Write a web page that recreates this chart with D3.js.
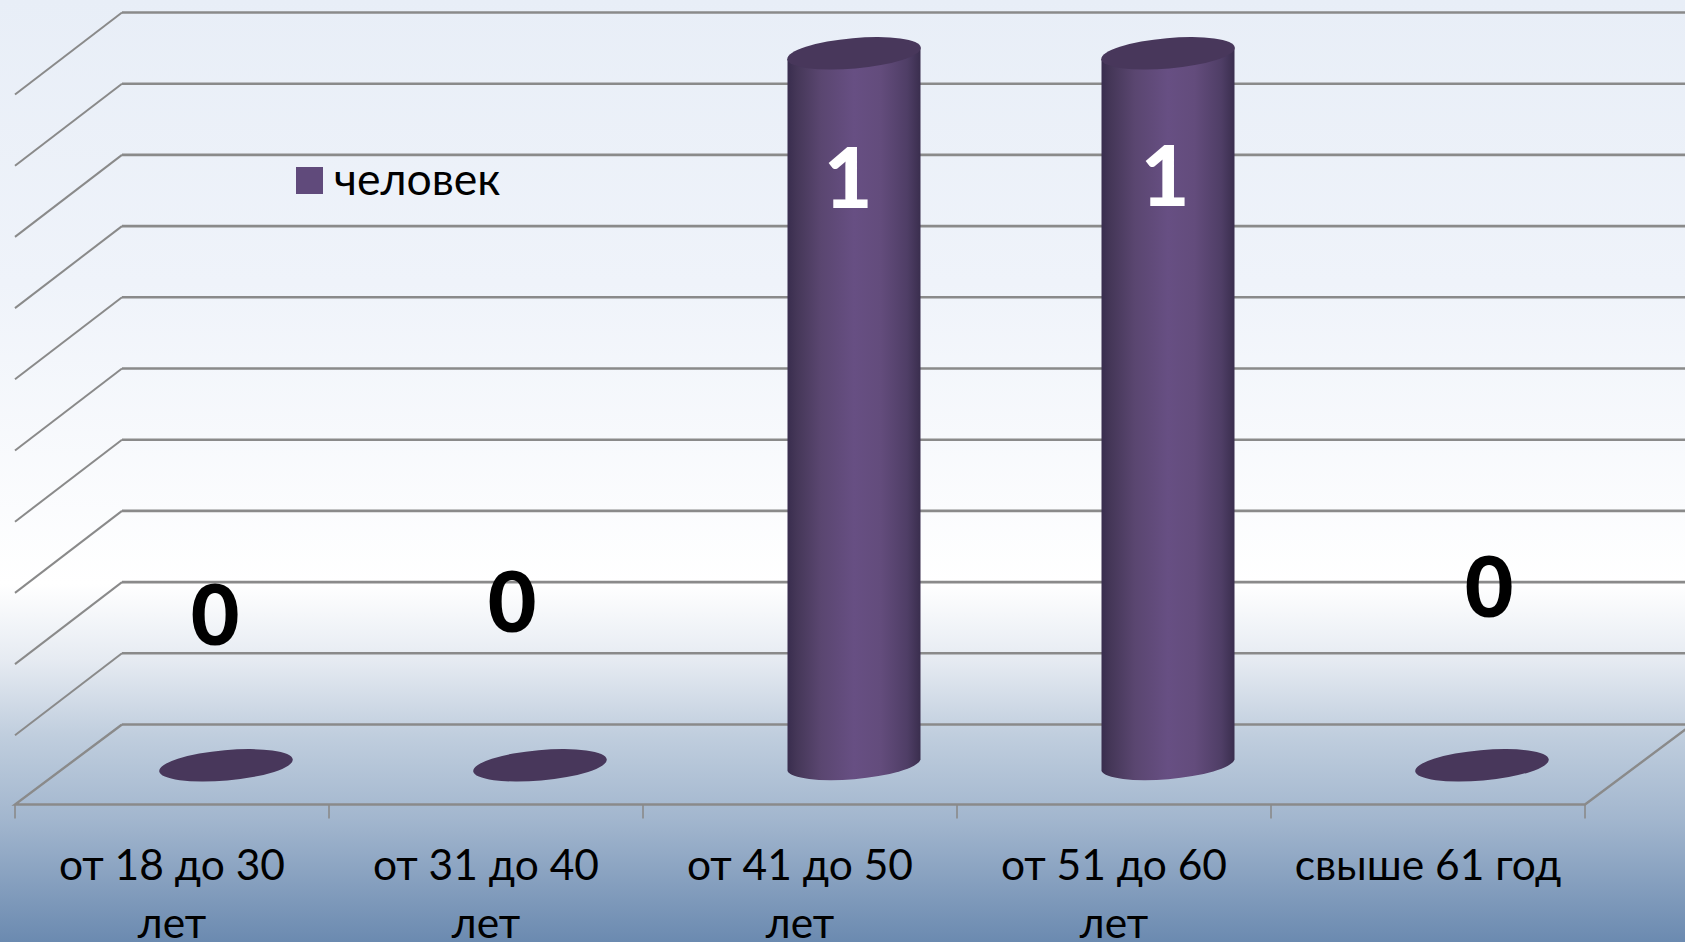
<!DOCTYPE html>
<html>
<head>
<meta charset="utf-8">
<script src="https://cdnjs.cloudflare.com/ajax/libs/d3/7.8.5/d3.min.js"></script>
<style>
    html, body { margin: 0; padding: 0; overflow: hidden; }
    text { font-family: Lato, "Open Sans", sans-serif; }
</style>
</head>
<body>
<div id="chart"></div>
<script>
const categories = ['от 18 до 30 лет', 'от 31 до 40 лет', 'от 41 до 50 лет', 'от 51 до 60 лет', 'свыше 61 год'];
const values = [0, 0, 1, 1, 0];
const seriesName = 'человек';

const width = 1685;
const height = 942;

// oblique depth of the 3D box, floor front edge to back wall
const depthX = 107;
const depthY = -80;
const sideDrop = 82;

// data labels were moved by hand in the original chart
const labelNudgeX = [-11, -28, -6, -3, 7];
const labelY = [612, 599, 175, 173, 584];

const svg = d3.select('#chart').append('svg')
    .attr('width', width)
    .attr('height', height);

const defs = svg.append('defs');

const bgGradient = defs.append('linearGradient')
    .attr('id', 'bg-gradient')
    .attr('x1', '0%').attr('y1', '0%')
    .attr('x2', '0%').attr('y2', '100%');
[[0, '#e8eef7'], [0.3, '#eff3fa'], [0.62, '#ffffff'], [0.7, '#e6ebf2'], [0.78, '#c0cede'], [0.87, '#a2b6ce'], [1, '#6b8ab0']]
    .forEach(s => bgGradient.append('stop').attr('offset', s[0]).attr('stop-color', s[1]));

const barGradient = defs.append('linearGradient')
    .attr('id', 'bar-gradient')
    .attr('x1', '0%').attr('y1', '0%')
    .attr('x2', '100%').attr('y2', '0%');
[[0, '#392d4e'], [0.07, '#453758'], [0.25, '#5a4670'], [0.5, '#674f83'], [0.7, '#634c7c'], [0.9, '#4f3e66'], [1, '#3a2e4e']]
    .forEach(s => barGradient.append('stop').attr('offset', s[0]).attr('stop-color', s[1]));

svg.append('rect')
    .attr('width', width)
    .attr('height', height)
    .attr('fill', 'url(#bg-gradient)');

const x = d3.scaleBand()
    .domain(categories)
    .range([15, 1585])
    .padding(0);

const floorFront = 804.5;
const y = d3.scaleLinear()
    .domain([0, 1])
    .range([floorFront + depthY, 12.5]);

const gridColor = '#8a8a8a';

// back wall and side wall grid
const gridTicks = y.ticks(10);
const grid = svg.append('g');

grid.selectAll('.wall-line')
    .data(gridTicks)
    .enter().append('line')
    .attr('class', 'wall-line')
    .attr('x1', x.range()[0] + depthX)
    .attr('x2', width)
    .attr('y1', d => y(d))
    .attr('y2', d => y(d))
    .attr('stroke', gridColor)
    .attr('stroke-width', 2.6);

grid.selectAll('.side-line')
    .data(gridTicks.filter(d => d > 0))
    .enter().append('line')
    .attr('class', 'side-line')
    .attr('x1', x.range()[0])
    .attr('x2', x.range()[0] + depthX)
    .attr('y1', d => y(d) + sideDrop)
    .attr('y2', d => y(d))
    .attr('stroke', gridColor)
    .attr('stroke-width', 2);

// floor outline
grid.append('path')
    .attr('d', d3.line()([
        [x.range()[0] + depthX, y(0)],
        [x.range()[0], floorFront],
        [x.range()[1], floorFront],
        [x.range()[1] + depthX, y(0)]
    ]))
    .attr('fill', 'none')
    .attr('stroke', gridColor)
    .attr('stroke-width', 2.4);

const tickEdges = categories.map(d => x(d)).concat(x.range()[1]);
grid.selectAll('.edge-tick')
    .data(tickEdges)
    .enter().append('line')
    .attr('class', 'edge-tick')
    .attr('x1', d => d)
    .attr('x2', d => d)
    .attr('y1', floorFront)
    .attr('y2', floorFront + 14)
    .attr('stroke', gridColor)
    .attr('stroke-width', 1.6);

// category labels
const xAxis = d3.axisBottom(x).tickSize(0).tickPadding(0);
const axisG = svg.append('g')
    .attr('transform', `translate(0, ${floorFront})`)
    .call(xAxis);
axisG.select('.domain').remove();
axisG.selectAll('text')
    .attr('y', null)
    .attr('dy', null)
    .attr('fill', '#000')
    .style('font-size', '42.5px')
    .each(function (d) {
        const lines = d.split(/ (?=лет)/);
        const t = d3.select(this).text(null);
        lines.forEach((line, i) => {
            t.append('tspan')
                .attr('x', 0)
                .attr('y', 75.5 + i * 58)
                .text(line);
        });
    });

// cylinders, centred halfway into the depth of the box
const barRx = 67;
const barRy = 15.2;
const barTilt = -5;
const barHalf = 66.5;
const barSlope = 5.6;
const cx = d => x(d) + x.bandwidth() / 2 + depthX / 2 + 0.5;
const cy = v => y(v) - depthY / 2 + 0.8;

const bars = svg.append('g').selectAll('.bar')
    .data(categories.map((c, i) => ({ category: c, value: values[i] })))
    .enter().append('g')
    .attr('class', 'bar');

bars.append('path')
    .attr('fill', 'url(#bar-gradient)')
    .attr('d', d => {
        const l = cx(d.category) - barHalf;
        const r = cx(d.category) + barHalf;
        const top = cy(d.value);
        const base = cy(0);
        return `M${l},${top + barSlope}L${l},${base + barSlope}` +
            `A${barRx},${barRy} ${barTilt} 0 0 ${r},${base - barSlope}` +
            `L${r},${top - barSlope}Z`;
    });

bars.append('ellipse')
    .attr('rx', barRx)
    .attr('ry', barRy)
    .attr('fill', '#48375b')
    .attr('transform', d => `translate(${cx(d.category)}, ${cy(d.value)}) rotate(${barTilt})`);

// data labels
svg.append('g').selectAll('.value-label')
    .data(values)
    .enter().append('text')
    .attr('class', 'value-label')
    .attr('x', (d, i) => cx(categories[i]) + labelNudgeX[i])
    .attr('y', (d, i) => labelY[i])
    .attr('text-anchor', 'middle')
    .attr('dominant-baseline', 'central')
    .attr('fill', d => d > 0 ? '#fff' : '#000')
    .style('font-size', '84px')
    .style('font-weight', 900)
    .text(d => d);

// legend
const legend = svg.append('g').attr('transform', 'translate(296, 167)');
legend.append('rect')
    .attr('width', 27)
    .attr('height', 27)
    .attr('fill', '#604a7b');
legend.append('text')
    .attr('x', 38)
    .attr('y', 28)
    .attr('fill', '#000')
    .style('font-size', '44.5px')
    .text(seriesName);
</script>
</body>
</html>
